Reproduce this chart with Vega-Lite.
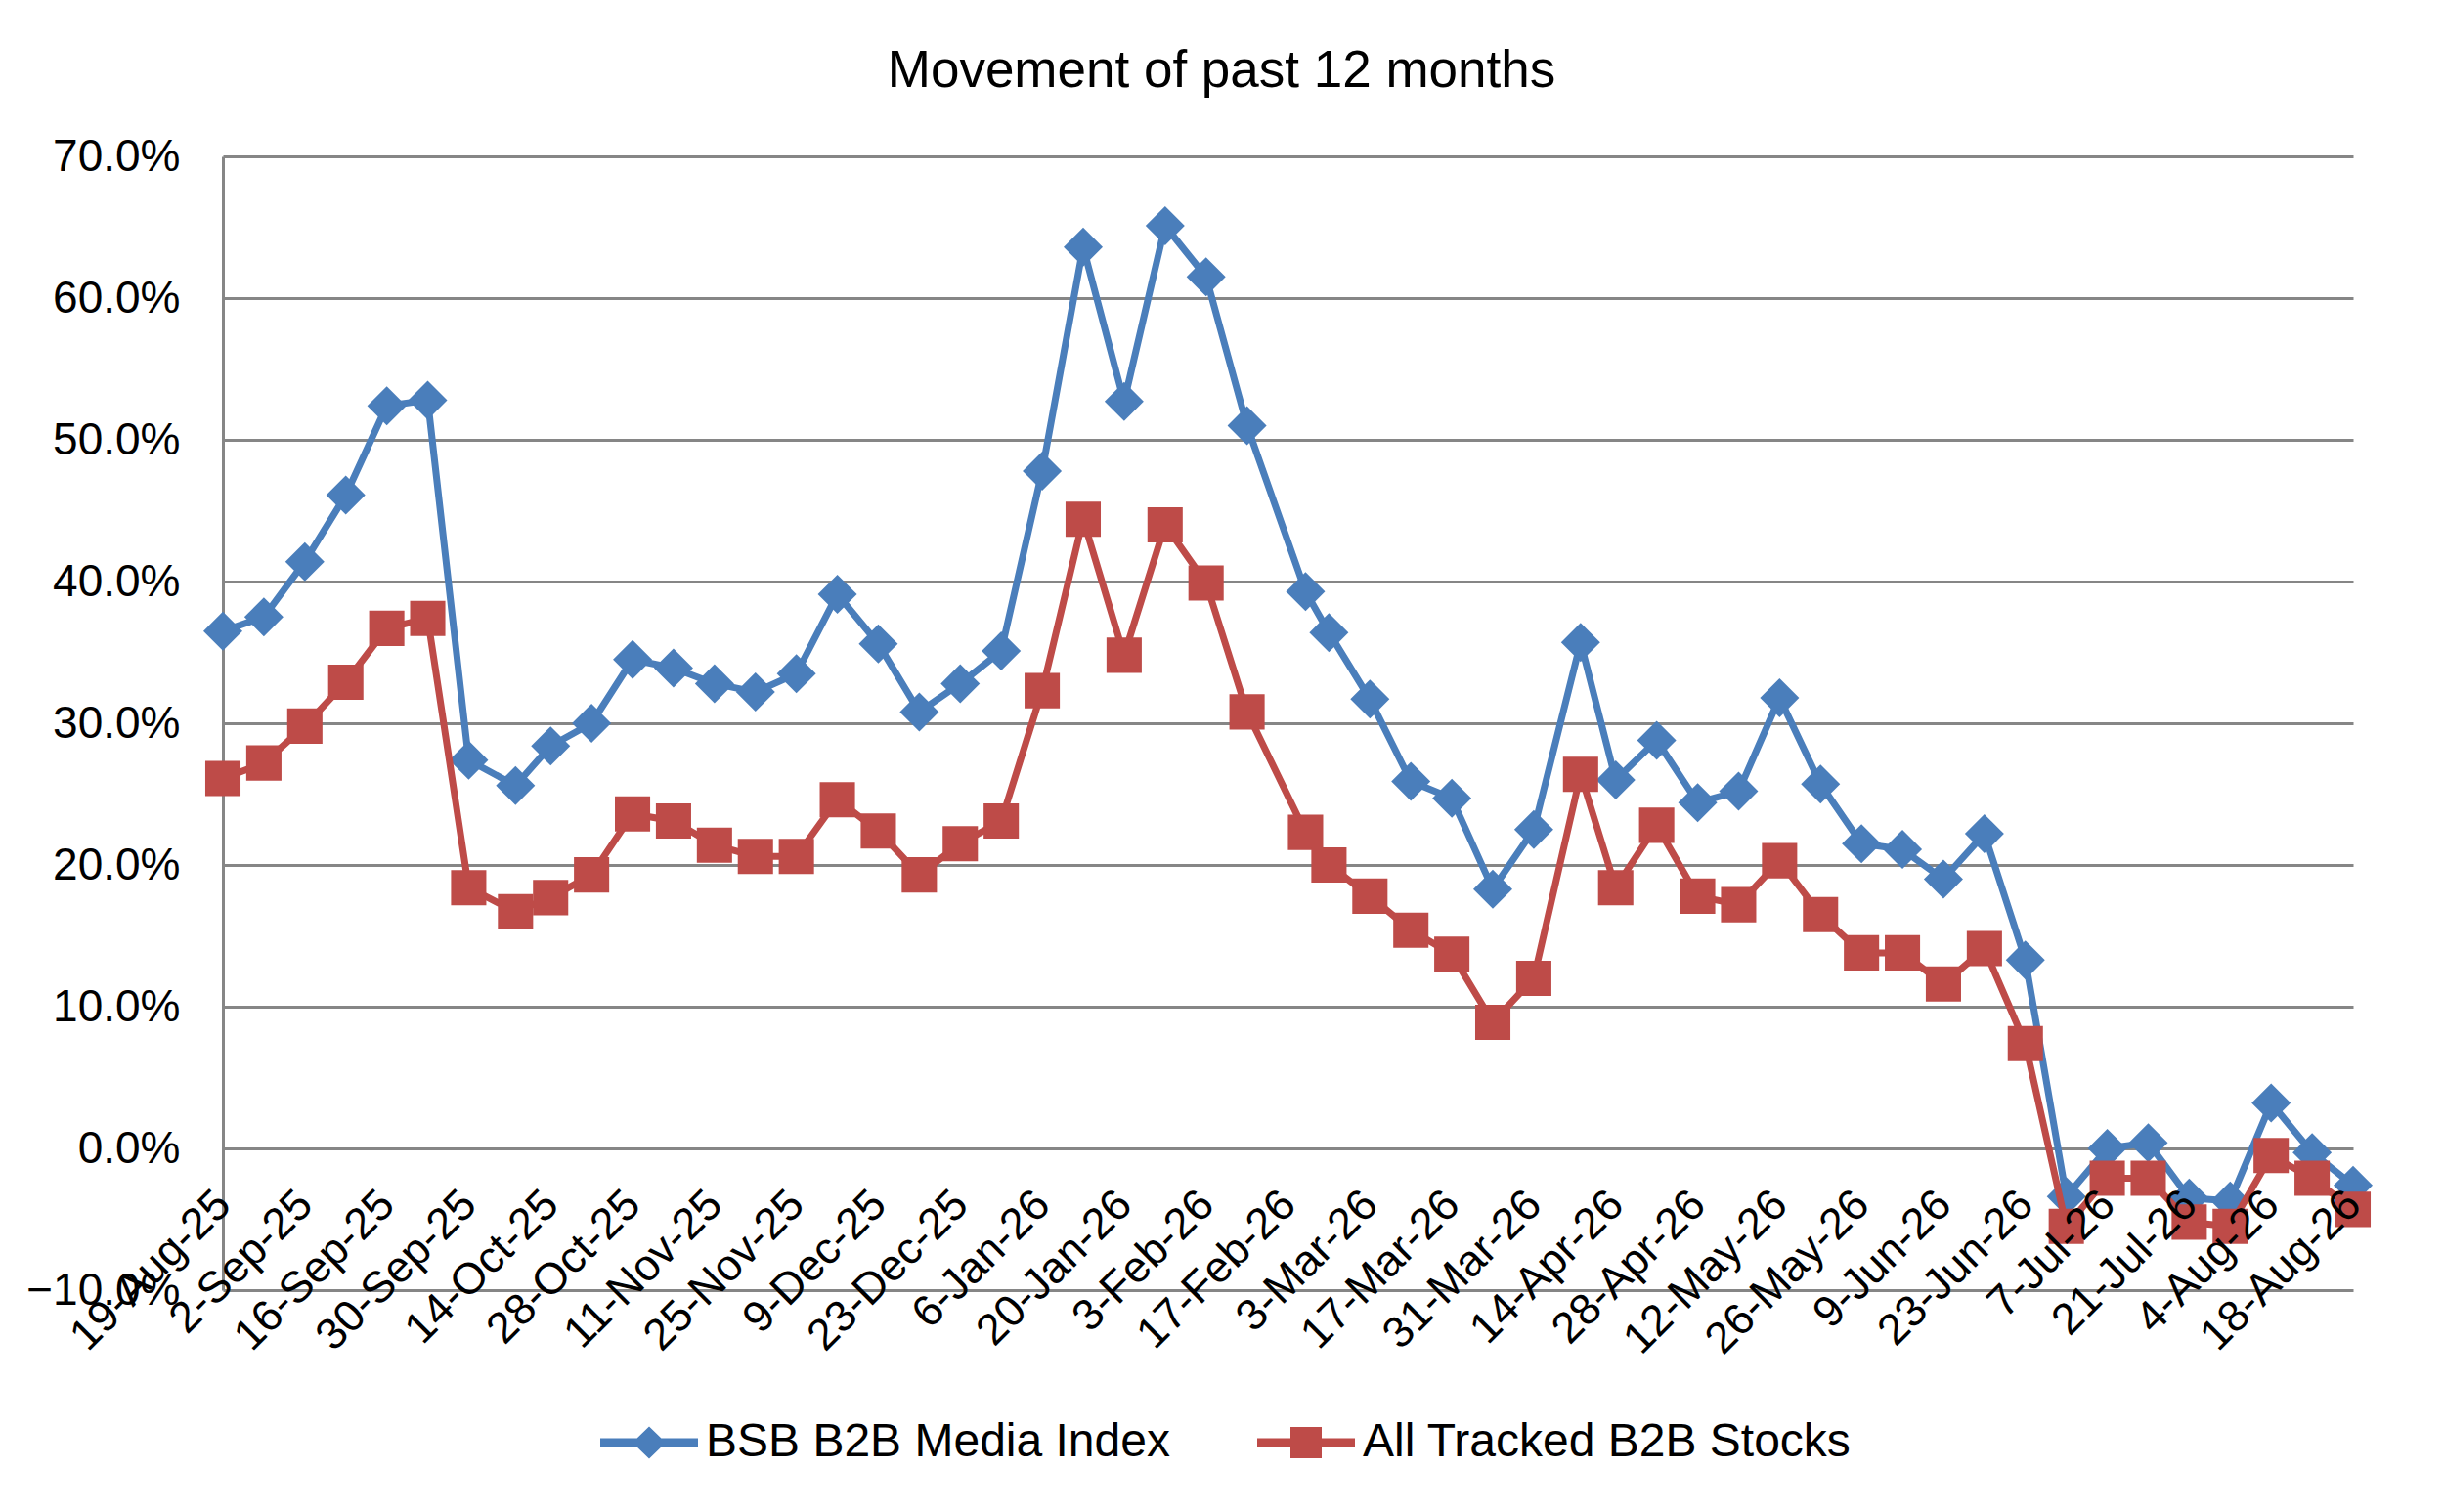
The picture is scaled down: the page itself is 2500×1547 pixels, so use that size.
{
  "$schema": "https://vega.github.io/schema/vega-lite/v6.json",
  "width": 2179,
  "height": 1160,
  "autosize": {"type": "none"},
  "padding": {"left": 228, "top": 160, "right": 93, "bottom": 227},
  "background": "white",
  "title": {
    "text": "Movement of past 12 months",
    "font": "Liberation Sans",
    "fontSize": 53,
    "fontWeight": "normal",
    "color": "black",
    "anchor": "middle",
    "dx": -68,
    "offset": 37
  },
  "config": {
    "view": {"stroke": null},
    "font": "Liberation Sans"
  },
  "data": {
    "values": [
      {"date": "2025-08-19", "s": "BSB B2B Media Index", "v": 0.365},
      {"date": "2025-08-26", "s": "BSB B2B Media Index", "v": 0.375},
      {"date": "2025-09-02", "s": "BSB B2B Media Index", "v": 0.414},
      {"date": "2025-09-09", "s": "BSB B2B Media Index", "v": 0.461},
      {"date": "2025-09-16", "s": "BSB B2B Media Index", "v": 0.524},
      {"date": "2025-09-23", "s": "BSB B2B Media Index", "v": 0.528},
      {"date": "2025-09-30", "s": "BSB B2B Media Index", "v": 0.274},
      {"date": "2025-10-08", "s": "BSB B2B Media Index", "v": 0.256},
      {"date": "2025-10-14", "s": "BSB B2B Media Index", "v": 0.284},
      {"date": "2025-10-21", "s": "BSB B2B Media Index", "v": 0.300},
      {"date": "2025-10-28", "s": "BSB B2B Media Index", "v": 0.345},
      {"date": "2025-11-04", "s": "BSB B2B Media Index", "v": 0.339},
      {"date": "2025-11-11", "s": "BSB B2B Media Index", "v": 0.328},
      {"date": "2025-11-18", "s": "BSB B2B Media Index", "v": 0.322},
      {"date": "2025-11-25", "s": "BSB B2B Media Index", "v": 0.335},
      {"date": "2025-12-02", "s": "BSB B2B Media Index", "v": 0.391},
      {"date": "2025-12-09", "s": "BSB B2B Media Index", "v": 0.356},
      {"date": "2025-12-16", "s": "BSB B2B Media Index", "v": 0.308},
      {"date": "2025-12-23", "s": "BSB B2B Media Index", "v": 0.328},
      {"date": "2025-12-30", "s": "BSB B2B Media Index", "v": 0.351},
      {"date": "2026-01-06", "s": "BSB B2B Media Index", "v": 0.478},
      {"date": "2026-01-13", "s": "BSB B2B Media Index", "v": 0.636},
      {"date": "2026-01-20", "s": "BSB B2B Media Index", "v": 0.527},
      {"date": "2026-01-27", "s": "BSB B2B Media Index", "v": 0.651},
      {"date": "2026-02-03", "s": "BSB B2B Media Index", "v": 0.615},
      {"date": "2026-02-10", "s": "BSB B2B Media Index", "v": 0.510},
      {"date": "2026-02-20", "s": "BSB B2B Media Index", "v": 0.393},
      {"date": "2026-02-24", "s": "BSB B2B Media Index", "v": 0.364},
      {"date": "2026-03-03", "s": "BSB B2B Media Index", "v": 0.317},
      {"date": "2026-03-10", "s": "BSB B2B Media Index", "v": 0.259},
      {"date": "2026-03-17", "s": "BSB B2B Media Index", "v": 0.247},
      {"date": "2026-03-24", "s": "BSB B2B Media Index", "v": 0.183},
      {"date": "2026-03-31", "s": "BSB B2B Media Index", "v": 0.225},
      {"date": "2026-04-08", "s": "BSB B2B Media Index", "v": 0.357},
      {"date": "2026-04-14", "s": "BSB B2B Media Index", "v": 0.260},
      {"date": "2026-04-21", "s": "BSB B2B Media Index", "v": 0.288},
      {"date": "2026-04-28", "s": "BSB B2B Media Index", "v": 0.244},
      {"date": "2026-05-05", "s": "BSB B2B Media Index", "v": 0.252},
      {"date": "2026-05-12", "s": "BSB B2B Media Index", "v": 0.318},
      {"date": "2026-05-19", "s": "BSB B2B Media Index", "v": 0.257},
      {"date": "2026-05-26", "s": "BSB B2B Media Index", "v": 0.215},
      {"date": "2026-06-02", "s": "BSB B2B Media Index", "v": 0.211},
      {"date": "2026-06-09", "s": "BSB B2B Media Index", "v": 0.190},
      {"date": "2026-06-16", "s": "BSB B2B Media Index", "v": 0.222},
      {"date": "2026-06-23", "s": "BSB B2B Media Index", "v": 0.133},
      {"date": "2026-06-30", "s": "BSB B2B Media Index", "v": -0.034},
      {"date": "2026-07-07", "s": "BSB B2B Media Index", "v": 0.000},
      {"date": "2026-07-14", "s": "BSB B2B Media Index", "v": 0.004},
      {"date": "2026-07-21", "s": "BSB B2B Media Index", "v": -0.035},
      {"date": "2026-07-28", "s": "BSB B2B Media Index", "v": -0.037},
      {"date": "2026-08-04", "s": "BSB B2B Media Index", "v": 0.032},
      {"date": "2026-08-11", "s": "BSB B2B Media Index", "v": -0.003},
      {"date": "2026-08-18", "s": "BSB B2B Media Index", "v": -0.026},
      {"date": "2025-08-19", "s": "All Tracked B2B Stocks", "v": 0.261},
      {"date": "2025-08-26", "s": "All Tracked B2B Stocks", "v": 0.272},
      {"date": "2025-09-02", "s": "All Tracked B2B Stocks", "v": 0.298},
      {"date": "2025-09-09", "s": "All Tracked B2B Stocks", "v": 0.329},
      {"date": "2025-09-16", "s": "All Tracked B2B Stocks", "v": 0.367},
      {"date": "2025-09-23", "s": "All Tracked B2B Stocks", "v": 0.374},
      {"date": "2025-09-30", "s": "All Tracked B2B Stocks", "v": 0.184},
      {"date": "2025-10-08", "s": "All Tracked B2B Stocks", "v": 0.167},
      {"date": "2025-10-14", "s": "All Tracked B2B Stocks", "v": 0.177},
      {"date": "2025-10-21", "s": "All Tracked B2B Stocks", "v": 0.193},
      {"date": "2025-10-28", "s": "All Tracked B2B Stocks", "v": 0.236},
      {"date": "2025-11-04", "s": "All Tracked B2B Stocks", "v": 0.231},
      {"date": "2025-11-11", "s": "All Tracked B2B Stocks", "v": 0.214},
      {"date": "2025-11-18", "s": "All Tracked B2B Stocks", "v": 0.206},
      {"date": "2025-11-25", "s": "All Tracked B2B Stocks", "v": 0.206},
      {"date": "2025-12-02", "s": "All Tracked B2B Stocks", "v": 0.246},
      {"date": "2025-12-09", "s": "All Tracked B2B Stocks", "v": 0.224},
      {"date": "2025-12-16", "s": "All Tracked B2B Stocks", "v": 0.193},
      {"date": "2025-12-23", "s": "All Tracked B2B Stocks", "v": 0.215},
      {"date": "2025-12-30", "s": "All Tracked B2B Stocks", "v": 0.231},
      {"date": "2026-01-06", "s": "All Tracked B2B Stocks", "v": 0.323},
      {"date": "2026-01-13", "s": "All Tracked B2B Stocks", "v": 0.444},
      {"date": "2026-01-20", "s": "All Tracked B2B Stocks", "v": 0.348},
      {"date": "2026-01-27", "s": "All Tracked B2B Stocks", "v": 0.440},
      {"date": "2026-02-03", "s": "All Tracked B2B Stocks", "v": 0.399},
      {"date": "2026-02-10", "s": "All Tracked B2B Stocks", "v": 0.308},
      {"date": "2026-02-20", "s": "All Tracked B2B Stocks", "v": 0.223},
      {"date": "2026-02-24", "s": "All Tracked B2B Stocks", "v": 0.200},
      {"date": "2026-03-03", "s": "All Tracked B2B Stocks", "v": 0.178},
      {"date": "2026-03-10", "s": "All Tracked B2B Stocks", "v": 0.154},
      {"date": "2026-03-17", "s": "All Tracked B2B Stocks", "v": 0.137},
      {"date": "2026-03-24", "s": "All Tracked B2B Stocks", "v": 0.089},
      {"date": "2026-03-31", "s": "All Tracked B2B Stocks", "v": 0.120},
      {"date": "2026-04-08", "s": "All Tracked B2B Stocks", "v": 0.264},
      {"date": "2026-04-14", "s": "All Tracked B2B Stocks", "v": 0.184},
      {"date": "2026-04-21", "s": "All Tracked B2B Stocks", "v": 0.228},
      {"date": "2026-04-28", "s": "All Tracked B2B Stocks", "v": 0.178},
      {"date": "2026-05-05", "s": "All Tracked B2B Stocks", "v": 0.172},
      {"date": "2026-05-12", "s": "All Tracked B2B Stocks", "v": 0.203},
      {"date": "2026-05-19", "s": "All Tracked B2B Stocks", "v": 0.165},
      {"date": "2026-05-26", "s": "All Tracked B2B Stocks", "v": 0.138},
      {"date": "2026-06-02", "s": "All Tracked B2B Stocks", "v": 0.138},
      {"date": "2026-06-09", "s": "All Tracked B2B Stocks", "v": 0.116},
      {"date": "2026-06-16", "s": "All Tracked B2B Stocks", "v": 0.141},
      {"date": "2026-06-23", "s": "All Tracked B2B Stocks", "v": 0.074},
      {"date": "2026-06-30", "s": "All Tracked B2B Stocks", "v": -0.055},
      {"date": "2026-07-07", "s": "All Tracked B2B Stocks", "v": -0.021},
      {"date": "2026-07-14", "s": "All Tracked B2B Stocks", "v": -0.021},
      {"date": "2026-07-21", "s": "All Tracked B2B Stocks", "v": -0.052},
      {"date": "2026-07-28", "s": "All Tracked B2B Stocks", "v": -0.055},
      {"date": "2026-08-04", "s": "All Tracked B2B Stocks", "v": -0.005},
      {"date": "2026-08-11", "s": "All Tracked B2B Stocks", "v": -0.021},
      {"date": "2026-08-18", "s": "All Tracked B2B Stocks", "v": -0.043}
    ]
  },
  "encoding": {
    "x": {
      "field": "date",
      "type": "temporal",
      "scale": {
        "type": "utc",
        "domain": [
          {"year": 2025, "month": 8, "date": 19, "utc": true},
          {"year": 2026, "month": 8, "date": 18, "utc": true}
        ],
        "nice": false
      },
      "axis": {
        "title": null,
        "format": "%-d-%b-%y",
        "values": [
          {"year": 2025, "month": 8, "date": 19, "utc": true},
          {"year": 2025, "month": 9, "date": 2, "utc": true},
          {"year": 2025, "month": 9, "date": 16, "utc": true},
          {"year": 2025, "month": 9, "date": 30, "utc": true},
          {"year": 2025, "month": 10, "date": 14, "utc": true},
          {"year": 2025, "month": 10, "date": 28, "utc": true},
          {"year": 2025, "month": 11, "date": 11, "utc": true},
          {"year": 2025, "month": 11, "date": 25, "utc": true},
          {"year": 2025, "month": 12, "date": 9, "utc": true},
          {"year": 2025, "month": 12, "date": 23, "utc": true},
          {"year": 2026, "month": 1, "date": 6, "utc": true},
          {"year": 2026, "month": 1, "date": 20, "utc": true},
          {"year": 2026, "month": 2, "date": 3, "utc": true},
          {"year": 2026, "month": 2, "date": 17, "utc": true},
          {"year": 2026, "month": 3, "date": 3, "utc": true},
          {"year": 2026, "month": 3, "date": 17, "utc": true},
          {"year": 2026, "month": 3, "date": 31, "utc": true},
          {"year": 2026, "month": 4, "date": 14, "utc": true},
          {"year": 2026, "month": 4, "date": 28, "utc": true},
          {"year": 2026, "month": 5, "date": 12, "utc": true},
          {"year": 2026, "month": 5, "date": 26, "utc": true},
          {"year": 2026, "month": 6, "date": 9, "utc": true},
          {"year": 2026, "month": 6, "date": 23, "utc": true},
          {"year": 2026, "month": 7, "date": 7, "utc": true},
          {"year": 2026, "month": 7, "date": 21, "utc": true},
          {"year": 2026, "month": 8, "date": 4, "utc": true},
          {"year": 2026, "month": 8, "date": 18, "utc": true}
        ],
        "offset": -145,
        "zindex": 1,
        "grid": false,
        "ticks": false,
        "domain": false,
        "labelAngle": -45,
        "labelAlign": "right",
        "labelBaseline": "middle",
        "labelPadding": 50,
        "labelFont": "Liberation Sans",
        "labelFontSize": 45,
        "labelColor": "black",
        "labelLimit": 1000,
        "labelOverlap": false,
        "labelFlush": false,
        "labelBound": false
      }
    },
    "y": {
      "field": "v",
      "type": "quantitative",
      "scale": {"domain": [-0.1, 0.7], "nice": false, "zero": false},
      "axis": {
        "title": null,
        "format": ".1%",
        "values": [-0.1, 0, 0.1, 0.2, 0.3, 0.4, 0.5, 0.6, 0.7],
        "grid": true,
        "gridColor": "#868686",
        "gridWidth": 3,
        "ticks": false,
        "domainColor": "#868686",
        "domainWidth": 3,
        "labelPadding": 44,
        "labelFont": "Liberation Sans",
        "labelFontSize": 46,
        "labelColor": "black"
      }
    }
  },
  "layer": [
    {
      "transform": [{"filter": "datum.s === 'BSB B2B Media Index'"}],
      "mark": {"type": "line", "color": "#4A7EBB", "strokeWidth": 7, "strokeJoin": "round"}
    },
    {
      "transform": [{"filter": "datum.s === 'BSB B2B Media Index'"}],
      "mark": {"type": "point", "shape": "diamond", "filled": true, "size": 1600, "color": "#4A7EBB", "opacity": 1}
    },
    {
      "transform": [{"filter": "datum.s === 'All Tracked B2B Stocks'"}],
      "mark": {"type": "line", "color": "#BE4B48", "strokeWidth": 7, "strokeJoin": "round"}
    },
    {
      "transform": [{"filter": "datum.s === 'All Tracked B2B Stocks'"}],
      "mark": {"type": "point", "shape": "square", "filled": true, "size": 1300, "color": "#BE4B48", "opacity": 1}
    },
    {
      "mark": {"type": "point", "filled": true, "size": 0, "opacity": 1},
      "encoding": {
        "color": {
          "field": "s",
          "type": "nominal",
          "scale": {
            "domain": ["BSB B2B Media Index", "All Tracked B2B Stocks"],
            "range": ["#4A7EBB", "#BE4B48"]
          },
          "legend": {
            "title": null,
            "orient": "none",
            "direction": "horizontal",
            "legendX": 386,
            "legendY": 1266,
            "padding": 0,
            "symbolSize": 10000,
            "symbolStrokeWidth": 0,
            "labelFont": "Liberation Sans",
            "labelFontSize": 48,
            "labelColor": "black",
            "labelOffset": 8,
            "columnPadding": 89,
            "labelLimit": 1000
          }
        },
        "shape": {
          "field": "s",
          "type": "nominal",
          "scale": {
            "domain": ["BSB B2B Media Index", "All Tracked B2B Stocks"],
            "range": [
              "M-1,-0.09L1,-0.09L1,0.09L-1,0.09Z M0,-0.33L0.34,0L0,0.33L-0.34,0Z",
              "M-1,-0.09L1,-0.09L1,0.09L-1,0.09Z M-0.32,-0.32L0.32,-0.32L0.32,0.32L-0.32,0.32Z"
            ]
          },
          "legend": {
            "title": null,
            "orient": "none",
            "direction": "horizontal",
            "legendX": 386,
            "legendY": 1266,
            "padding": 0,
            "symbolSize": 10000,
            "symbolStrokeWidth": 0,
            "labelFont": "Liberation Sans",
            "labelFontSize": 48,
            "labelColor": "black",
            "labelOffset": 8,
            "columnPadding": 89,
            "labelLimit": 1000
          }
        }
      }
    }
  ]
}
